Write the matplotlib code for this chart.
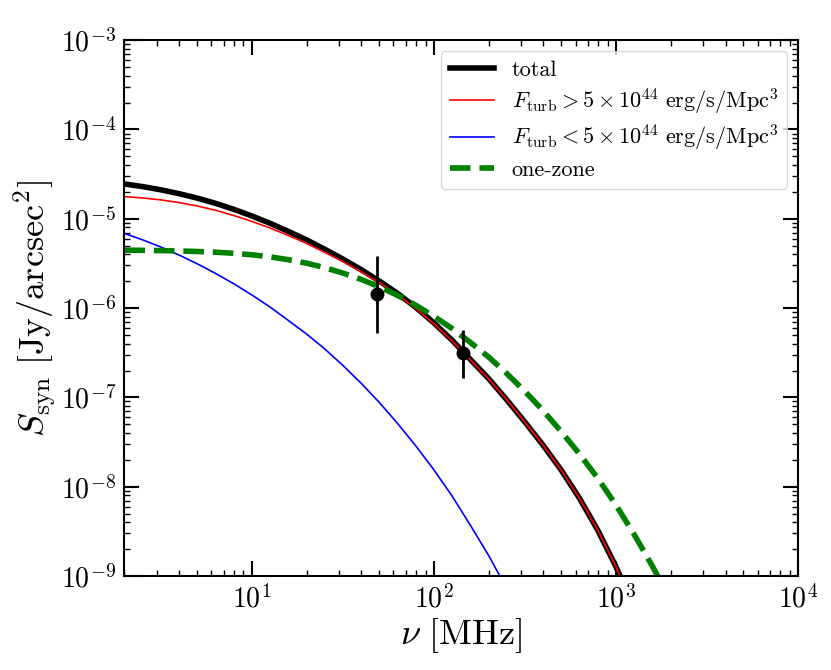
#!/usr/bin/env python3

import numpy as np
import matplotlib as mpl
mpl.use('Agg')
from matplotlib import pyplot as plt

nu = [2, 2.51, 3.16, 3.98, 5.01, 6.31, 7.94, 10, 12.6, 15.8, 20, 25.1, 31.6, 39.8, 50.1,
      63.1, 79.4, 100, 126, 158, 200, 251, 316, 398, 501, 631, 794, 1000, 1122]

# log10 of S_syn [Jy/arcsec^2]
log_total = [-4.61, -4.639, -4.675, -4.718, -4.768, -4.826, -4.893, -4.968, -5.05, -5.139,
             -5.236, -5.34, -5.45, -5.568, -5.696, -5.835, -5.99, -6.165, -6.36, -6.57,
             -6.79, -7.025, -7.275, -7.535, -7.815, -8.13, -8.485, -8.895, -9.125]
log_high = [-4.752, -4.766, -4.788, -4.818, -4.856, -4.904, -4.962, -5.029, -5.103, -5.185,
            -5.276, -5.375, -5.479, -5.592, -5.715, -5.85, -6.003, -6.175, -6.368, -6.576,
            -6.793, -7.026, -7.275, -7.535, -7.815, -8.13, -8.485, -8.895, -9.125]

nu_low = [2, 2.51, 3.16, 3.98, 5.01, 6.31, 7.94, 10, 12.6, 15.8, 20, 25.1, 31.6, 39.8, 50.1,
          63.1, 79.4, 100, 126, 158, 200, 251]
log_low = [-5.164, -5.235, -5.315, -5.405, -5.503, -5.61, -5.726, -5.852, -5.988, -6.135,
           -6.29, -6.455, -6.64, -6.84, -7.055, -7.29, -7.54, -7.81, -8.105, -8.425,
           -8.77, -9.14]

nu_one = [2, 2.51, 3.16, 3.98, 5.01, 6.31, 7.94, 10, 12.6, 15.8, 20, 25.1, 31.6, 39.8, 50.1,
          63.1, 79.4, 100, 126, 158, 200, 251, 316, 398, 501, 631, 794, 1000, 1259, 1585, 1995]
log_one = [-5.351, -5.353, -5.356, -5.36, -5.366, -5.374, -5.386, -5.403, -5.426, -5.457,
           -5.497, -5.547, -5.607, -5.678, -5.761, -5.857, -5.967, -6.091, -6.229, -6.381,
           -6.548, -6.731, -6.931, -7.148, -7.384, -7.634, -7.904, -8.204, -8.534, -8.889,
           -9.27]

# observed points
obs_nu = [49, 145]
obs_s = [1.43e-6, 3.13e-7]
obs_lo = [5.25e-7, 1.64e-7]
obs_hi = [3.8e-6, 5.7e-7]


def main():
    mpl.rc('font', family='serif', serif=['cmr10'])
    mpl.rc('mathtext', fontset='cm')
    plt.rcParams['axes.formatter.use_mathtext'] = True
    plt.rcParams['axes.unicode_minus'] = False

    fig = plt.figure(figsize=(8.31, 6.70), dpi=100)
    ax = fig.add_axes([0.1498, 0.1403, 0.8105, 0.7997])

    ax.plot(nu, 10**np.array(log_total), color='black', lw=4, label='total')
    ax.plot(nu, 10**np.array(log_high), color='red', lw=1.2,
            label=r'$F_{\rm turb} > 5 \times 10^{44}\ {\rm erg/s/Mpc^3}$')
    ax.plot(nu_low, 10**np.array(log_low), color='blue', lw=1.2,
            label=r'$F_{\rm turb} < 5 \times 10^{44}\ {\rm erg/s/Mpc^3}$')
    ax.plot(nu_one, 10**np.array(log_one), color='green', lw=4, ls='--', label='one-zone')

    yerr = [np.array(obs_s) - np.array(obs_lo), np.array(obs_hi) - np.array(obs_s)]
    ax.errorbar(obs_nu, obs_s, yerr=yerr, fmt='o', color='black', ms=9, elinewidth=2, capsize=0)

    ax.set_xscale('log')
    ax.set_yscale('log')
    ax.set_xlim(2, 1e4)
    ax.set_ylim(1e-9, 1e-3)

    ax.set_xlabel(r'$\nu\ [{\rm MHz}]$', fontsize=26, labelpad=2)
    ax.set_ylabel(r'$S_{\rm syn}\ [{\rm Jy/arcsec^2}]$', fontsize=26, labelpad=2)

    ax.tick_params(which='both', direction='in', top=True, right=True, labelsize=20)
    ax.tick_params(which='major', length=10.5, width=1.5, pad=6)
    ax.tick_params(which='minor', length=4, width=1)
    for sp in ax.spines.values():
        sp.set_linewidth(1.5)

    ax.legend(loc='upper right', fontsize=16, labelspacing=0.3)

    plt.savefig('out.png', dpi=100)


if __name__ == '__main__':
    main()
